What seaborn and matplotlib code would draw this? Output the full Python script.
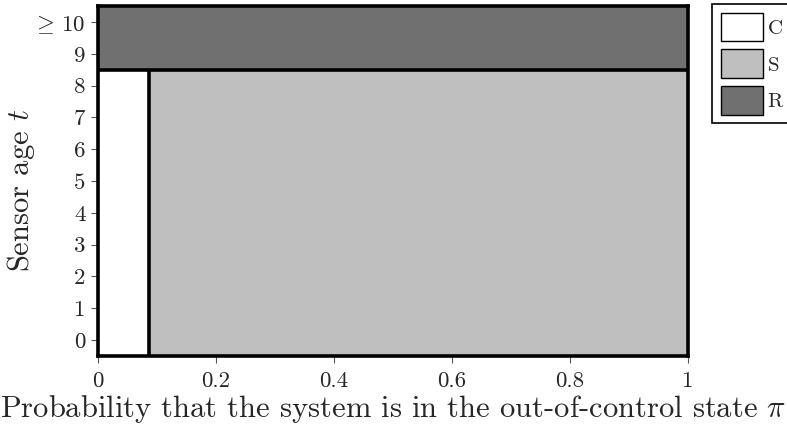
import matplotlib
matplotlib.use("Agg")
import matplotlib.pyplot as plt
from matplotlib.patches import Patch
import seaborn as sns

# policy per sensor age: C up to the threshold, S beyond it, R from age 9 on
ages = [0, 1, 2, 3, 4, 5, 6, 7, 8, 9, 10]
age_labels = ["0", "1", "2", "3", "4", "5", "6", "7", "8", "9", r"$\geq\,10$"]
c_threshold = [0.086, 0.086, 0.086, 0.086, 0.086, 0.086, 0.086, 0.086, 0.086, 0.0, 0.0]
replace_age = 9
actions = ["C", "S", "R"]
action_colors = ["#ffffff", "#bfbfbf", "#707070"]
xticks = [0, 0.2, 0.4, 0.6, 0.8, 1]
xtick_labels = ["0", "0.2", "0.4", "0.6", "0.8", "1"]

sns.set_style("ticks")
plt.rcParams["font.family"] = "serif"
plt.rcParams["font.serif"] = ["cmr10", "DejaVu Serif"]
plt.rcParams["mathtext.fontset"] = "cm"
plt.rcParams["axes.formatter.use_mathtext"] = True

fig = plt.figure(figsize=(7.87, 4.33), dpi=100)
ax = fig.add_axes([0.1245, 0.178, 0.7495, 0.808])

lw = 2.6
for t, thr in zip(ages, c_threshold):
    if t >= replace_age:
        ax.barh(t, 1.0, left=0.0, height=1.0, color=action_colors[2], edgecolor="none")
    else:
        ax.barh(t, thr, left=0.0, height=1.0, color=action_colors[0], edgecolor="none")
        ax.barh(t, 1.0 - thr, left=thr, height=1.0, color=action_colors[1], edgecolor="none")

# region boundaries
ax.hlines(replace_age - 0.5, 0, 1, color="black", linewidth=lw)
ax.vlines(c_threshold[0], ages[0] - 0.5, replace_age - 0.5, color="black", linewidth=lw)

ax.set_xlim(0, 1)
ax.set_ylim(-0.5, 10.5)
for s in ax.spines.values():
    s.set_linewidth(lw)
    s.set_color("black")

ax.set_xticks(xticks)
ax.set_xticklabels(xtick_labels)
ax.set_yticks(ages)
ax.set_yticklabels(age_labels)
ax.tick_params(axis="both", labelsize=16.5, length=5, width=0.8, color="#555555")
ax.tick_params(axis="x", pad=6)
ax.tick_params(axis="y", pad=4)

ax.set_xlabel(r"Probability that the system is in the out-of-control state $\pi$", fontsize=22, labelpad=2)
ax.set_ylabel(r"Sensor age $t$", fontsize=22)
ax.yaxis.set_label_coords(-0.103, 0.474)

handles = [Patch(facecolor=c, edgecolor="black", linewidth=1.0) for c in action_colors]
leg = fig.legend(handles, actions, loc="upper left", bbox_to_anchor=(0.905, 0.99),
                 fontsize=15, handlelength=2.05, handleheight=1.75, labelspacing=0.38,
                 handletextpad=0.2, borderpad=0.4, borderaxespad=0, frameon=True,
                 fancybox=False, framealpha=1)
leg.get_frame().set_edgecolor("black")
leg.get_frame().set_linewidth(1.2)

fig.savefig("out.png", dpi=100)
